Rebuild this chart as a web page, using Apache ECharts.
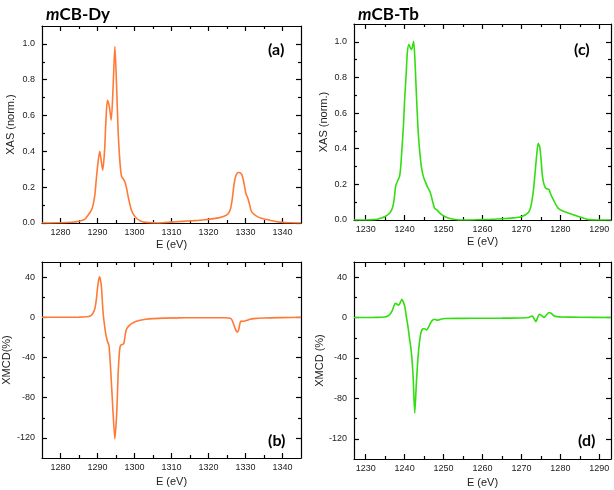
<!DOCTYPE html>
<html><head><meta charset="utf-8">
<script src="https://cdn.jsdelivr.net/npm/echarts@6/dist/echarts.min.js"></script>
<style>html,body{margin:0;padding:0;background:#fff}#c{width:614px;height:490px}</style>
</head><body><div id="c"></div>
<script>
// ---- data (E in eV, value) ----
const dyXas = [[1275,0],[1280,0.001],[1283,0.004],[1285,0.01],[1286.5,0.02],[1287.5,0.045],[1288.3,0.07],[1288.8,0.1],[1289.3,0.16],[1289.7,0.25],[1290.1,0.33],[1290.6,0.40],[1291.0,0.35],[1291.4,0.295],[1291.9,0.40],[1292.3,0.58],[1292.7,0.685],[1293.2,0.65],[1293.7,0.575],[1294.2,0.75],[1294.7,0.985],[1295.1,0.80],[1295.6,0.50],[1296.1,0.33],[1296.5,0.26],[1297.0,0.245],[1297.4,0.23],[1297.9,0.19],[1298.3,0.146],[1298.8,0.10],[1299.2,0.07],[1299.8,0.045],[1300.6,0.025],[1301.5,0.013],[1302.4,0.006],[1304,0.002],[1306,0],[1308,0.002],[1310,0.005],[1313,0.009],[1316,0.013],[1319,0.018],[1321,0.023],[1323,0.03],[1324.5,0.04],[1325.3,0.052],[1325.9,0.075],[1326.4,0.13],[1326.8,0.20],[1327.2,0.25],[1327.7,0.277],[1328.2,0.282],[1328.6,0.28],[1329.0,0.27],[1329.3,0.25],[1329.7,0.21],[1330.1,0.165],[1330.5,0.145],[1330.8,0.127],[1331.2,0.095],[1331.5,0.07],[1332.2,0.05],[1333.1,0.037],[1334.3,0.027],[1335.8,0.019],[1337.5,0.011],[1339.4,0.005],[1342,0.001],[1345,0]];
const tbXas = [[1227,0],[1230,0],[1232,0.002],[1233,0.004],[1234,0.011],[1235,0.02],[1236.2,0.039],[1236.9,0.07],[1237.3,0.114],[1237.7,0.19],[1238.2,0.22],[1238.7,0.245],[1239.0,0.3],[1239.3,0.395],[1239.7,0.53],[1240.0,0.675],[1240.4,0.82],[1240.7,0.94],[1241.1,0.985],[1241.5,0.965],[1241.8,0.957],[1242.3,1.003],[1242.6,0.92],[1242.9,0.77],[1243.2,0.62],[1243.5,0.49],[1243.9,0.38],[1244.3,0.30],[1244.8,0.245],[1245.4,0.21],[1246.0,0.18],[1246.5,0.16],[1246.9,0.13],[1247.3,0.095],[1247.7,0.065],[1248.2,0.058],[1249.5,0.03],[1251.2,0.011],[1253,0.003],[1255,0],[1258,0.001],[1262,0.004],[1265,0.007],[1268,0.012],[1270,0.018],[1271.7,0.04],[1272.2,0.06],[1272.6,0.095],[1273.1,0.17],[1273.5,0.264],[1273.9,0.36],[1274.3,0.43],[1274.7,0.41],[1275.0,0.35],[1275.4,0.245],[1275.8,0.2],[1276.2,0.18],[1276.6,0.175],[1277.1,0.17],[1277.6,0.14],[1278.2,0.114],[1278.8,0.088],[1279.4,0.067],[1280.6,0.05],[1282.0,0.039],[1283.3,0.029],[1284.6,0.02],[1286,0.01],[1287.2,0.002],[1289,0],[1293,0]];
const dyXmcd = [[1275,0],[1280,0],[1285,0.2],[1287,0.5],[1287.9,1],[1288.6,3],[1289.3,8.7],[1289.7,18],[1290.0,28.7],[1290.3,37],[1290.6,40.3],[1290.9,35],[1291.1,28.7],[1291.5,5.3],[1291.9,-8],[1292.3,-18],[1292.7,-24],[1293.1,-28],[1293.6,-54.7],[1294.2,-94.7],[1294.7,-121],[1295.2,-94.7],[1295.6,-54.7],[1295.9,-36],[1296.2,-28],[1296.7,-27],[1297.1,-26.3],[1297.5,-17],[1297.9,-11.3],[1298.5,-8.5],[1299.2,-6.3],[1300.3,-4.2],[1301.5,-3],[1303,-2],[1305.1,-1.3],[1308,-0.8],[1311,-0.6],[1311.3,-1.2],[1311.6,-0.6],[1315,-0.5],[1320,-0.4],[1324,-0.5],[1325.9,-1],[1326.4,-3],[1326.7,-6],[1327.2,-11],[1327.7,-14.7],[1328.1,-13],[1328.4,-8],[1328.6,-4.7],[1329.0,-3.8],[1329.5,-4],[1330.4,-3],[1331.2,-2],[1332.2,-1.3],[1335,-0.7],[1340,-0.3],[1345,0]];
const tbXmcd = [[1227,0],[1230,0],[1233,0.2],[1234.8,0.6],[1235.7,1.6],[1236.3,3.5],[1236.8,6.6],[1237.2,11],[1237.6,14],[1238.0,13.5],[1238.5,12.2],[1238.9,15],[1239.3,18.2],[1239.7,15],[1240.0,11.5],[1240.4,2],[1240.9,-10],[1241.3,-22],[1241.6,-30],[1241.9,-42],[1242.2,-60],[1242.6,-94.4],[1243.0,-66],[1243.5,-36.5],[1244.1,-16.6],[1244.7,-11],[1245.1,-11],[1245.6,-12.3],[1246.2,-9],[1246.7,-5],[1247.2,-2.5],[1247.7,-1.7],[1248.4,-2.7],[1249.2,-1.8],[1250.3,-1],[1255,-0.8],[1260,-0.7],[1265,-0.6],[1270,-0.4],[1271.7,0],[1272.3,1],[1272.8,1.6],[1273.2,-1],[1273.7,-4],[1274.1,-0.5],[1274.6,3.3],[1275.2,2],[1275.8,0],[1276.4,2.5],[1277.1,5],[1277.7,4],[1278.4,1.6],[1279.2,0.9],[1280.3,0.6],[1285,0.3],[1293,0]];

// tick values
const dyTicksMajor = [1280,1290,1300,1310,1320,1330,1340];
const dyTicksMinor = [1285,1295,1305,1315,1325,1335];
const tbTicksMajor = [1230,1240,1250,1260,1270,1280,1290];
const tbTicksMinor = [1235,1245,1255,1265,1275,1285];
const xasTicksMajor = [0,0.2,0.4,0.6,0.8,1.0];
const xasTicksMinor = [0.1,0.3,0.5,0.7,0.9];
const xmcdTicksMajor = [-120,-80,-40,0,40];
const xmcdTicksMinor = [-100,-60,-20,20];

const titles = ['CB-Dy','CB-Tb'];
const panelLabels = ['(a)','(b)','(c)','(d)'];

const ORANGE = '#ff7a36', GREEN = '#33dd11';
const TXT = '#222';
const FONT = 'Liberation Sans, Arial, sans-serif';

const grids = [
  {left:42, top:26, width:259, height:197},   // a
  {left:42, top:262, width:259, height:196},  // b
  {left:354, top:24, width:257, height:196},  // c
  {left:354, top:262, width:257, height:197}  // d
];

const xAxes = [], yAxes = [];
function addAxes(list, isX, g, min, max, interval, majors, minors, fmt, name, nameGap) {
  const lineStyle = {color:'#000', width:1.2};
  const pos = isX ? ['bottom','top'] : ['left','right'];
  let mainIndex = list.length;
  pos.forEach((p, k) => {
    list.push({
      type:'value', gridIndex:g, min, max, interval, position:p,
      name: k===0 ? name : '', nameLocation:'middle', nameGap,
      nameTextStyle:{fontSize:11, color:TXT, fontFamily:FONT},
      axisLine:{show:true, onZero:false, lineStyle},
      axisTick:{show:true, inside:true, length:5, customValues:majors, lineStyle},
      axisLabel:{show:k===0, customValues:majors, formatter:fmt, fontSize:9, color:TXT, fontFamily:FONT, margin:isX?5:7},
      splitLine:{show:false}
    });
    list.push({
      type:'value', gridIndex:g, min, max, interval, position:p,
      axisLine:{show:false, onZero:false},
      axisTick:{show:true, inside:true, length:3, customValues:minors, lineStyle},
      axisLabel:{show:false},
      splitLine:{show:false}
    });
  });
  return mainIndex;
}

const fx = v => String(Math.round(v));
const fy1 = v => v.toFixed(1);
const xi = [], yi = [];
xi.push(addAxes(xAxes, true, 0, 1275, 1345, 5, dyTicksMajor, dyTicksMinor, fx, 'E (eV)', 16));
yi.push(addAxes(yAxes, false, 0, 0, 1.1, 0.1, xasTicksMajor, xasTicksMinor, fy1, 'XAS (norm.)', 26));
xi.push(addAxes(xAxes, true, 1, 1275, 1345, 5, dyTicksMajor, dyTicksMinor, fx, 'E (eV)', 18));
yi.push(addAxes(yAxes, false, 1, -140, 55, 20, xmcdTicksMajor, xmcdTicksMinor, fx, 'XMCD(%)', 30));
xi.push(addAxes(xAxes, true, 2, 1227, 1293, 3, tbTicksMajor, tbTicksMinor, fx, 'E (eV)', 16));
yi.push(addAxes(yAxes, false, 2, 0, 1.1, 0.1, xasTicksMajor, xasTicksMinor, fy1, 'XAS (norm.)', 25));
xi.push(addAxes(xAxes, true, 3, 1227, 1293, 3, tbTicksMajor, tbTicksMinor, fx, 'E (eV)', 18));
yi.push(addAxes(yAxes, false, 3, -140, 55, 20, xmcdTicksMajor, xmcdTicksMinor, fx, 'XMCD (%)', 24));

const seriesData = [dyXas, dyXmcd, tbXas, tbXmcd];
const colors = [ORANGE, ORANGE, GREEN, GREEN];
const series = seriesData.map((d, i) => ({
  type:'line', xAxisIndex:xi[i], yAxisIndex:yi[i], data:d, showSymbol:false,
  smooth:0.25, lineStyle:{color:colors[i], width:1.6}, itemStyle:{color:colors[i]},
  silent:true, animation:false, clip:true
}));

const titleRich = {
  i:{fontStyle:'italic', fontWeight:'bold', fontSize:17, fontFamily:'Lato', color:'#000'},
  b:{fontWeight:'bold', fontSize:17, fontFamily:'Lato', color:'#000'}
};
const title = [
  {text:'{i|m}{b|' + titles[0] + '}', left:41, top:1, textStyle:{rich:titleRich}},
  {text:'{i|m}{b|' + titles[1] + '}', left:353, top:1, textStyle:{rich:titleRich}}
];
const labelPos = [[268,42],[268,433],[574,42],[578,433]];
const graphic = panelLabels.map((t, i) => ({
  type:'text', left:labelPos[i][0], top:labelPos[i][1],
  style:{text:t, font:'bold 16px Lato', fill:'#000'}
}));

const chart = echarts.init(document.getElementById('c'), null, {renderer:'canvas'});
chart.setOption({animation:false, grid:grids, xAxis:xAxes, yAxis:yAxes, series, title, graphic});
</script></body></html>
